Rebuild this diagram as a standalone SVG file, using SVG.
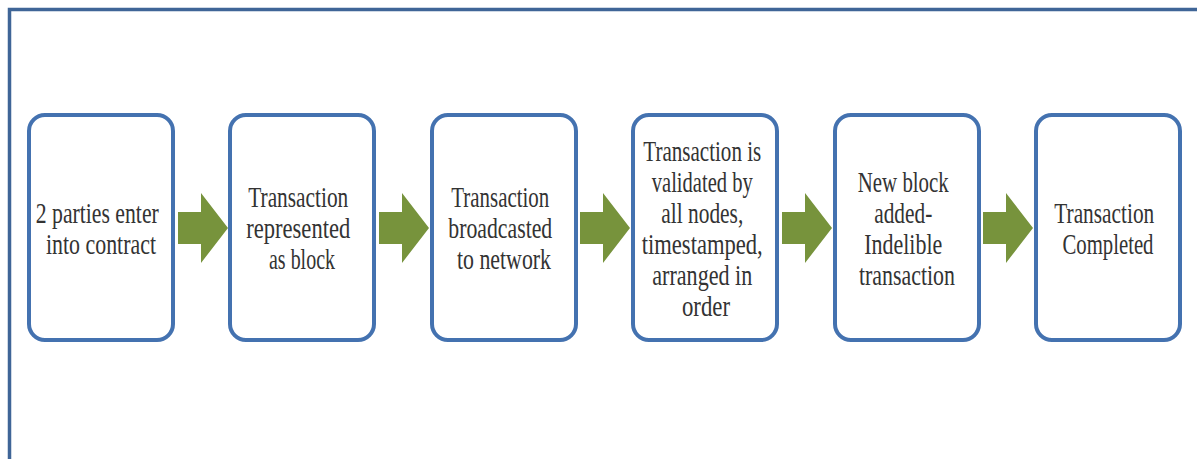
<svg xmlns="http://www.w3.org/2000/svg" width="1197" height="459" viewBox="0 0 1197 459">
  <defs>
    <style>
      .frame { fill: none; stroke: #3F6597; stroke-width: 3.5; }
      .box { fill: #FFFFFF; stroke: #4472B0; stroke-width: 4; }
      .arrow { fill: #77933C; }
      .label { font-family: "Liberation Serif", "DejaVu Serif", serif; font-size: 30px; fill: #333333; text-anchor: middle; }
    </style>
    <!-- block arrow pointing right, origin at shaft start, centred on y=0 -->
    <polygon id="blockArrow" class="arrow" points="0,-16 23,-16 23,-35 50,0 23,35 23,16 0,16"/>
  </defs>

  <rect width="1197" height="459" fill="#FFFFFF"/>

  <!-- outer frame: top and left edges -->
  <path class="frame" d="M9.5,459 V9.5 H1197"/>

  <!-- process steps -->
  <g id="step1">
    <rect class="box" x="29" y="115" width="144" height="225" rx="16"/>
    <text class="label" lengthAdjust="spacingAndGlyphs">
      <tspan x="101" y="223" textLength="123" lengthAdjust="spacingAndGlyphs">2 parties enter</tspan>
      <tspan x="101" y="254" textLength="110" lengthAdjust="spacingAndGlyphs">into contract</tspan>
    </text>
  </g>

  <g id="step2">
    <rect class="box" x="230" y="115" width="144" height="225" rx="16"/>
    <text class="label">
      <tspan x="302" y="207" textLength="100" lengthAdjust="spacingAndGlyphs">Transaction</tspan>
      <tspan x="302" y="238" textLength="104" lengthAdjust="spacingAndGlyphs">represented</tspan>
      <tspan x="302" y="269" textLength="66" lengthAdjust="spacingAndGlyphs">as block</tspan>
    </text>
  </g>

  <g id="step3">
    <rect class="box" x="432" y="115" width="144" height="225" rx="16"/>
    <text class="label">
      <tspan x="504" y="207" textLength="98" lengthAdjust="spacingAndGlyphs">Transaction</tspan>
      <tspan x="504" y="238" textLength="104" lengthAdjust="spacingAndGlyphs">broadcasted</tspan>
      <tspan x="504" y="269" textLength="94" lengthAdjust="spacingAndGlyphs">to network</tspan>
    </text>
  </g>

  <g id="step4">
    <rect class="box" x="633" y="115" width="144" height="225" rx="16"/>
    <text class="label">
      <tspan x="706" y="161" textLength="118" lengthAdjust="spacingAndGlyphs">Transaction is</tspan>
      <tspan x="706" y="192" textLength="101" lengthAdjust="spacingAndGlyphs">validated by</tspan>
      <tspan x="706" y="223" textLength="82" lengthAdjust="spacingAndGlyphs">all nodes,</tspan>
      <tspan x="706" y="254" textLength="121" lengthAdjust="spacingAndGlyphs">timestamped,</tspan>
      <tspan x="706" y="285" textLength="100" lengthAdjust="spacingAndGlyphs">arranged in</tspan>
      <tspan x="706" y="316" textLength="48" lengthAdjust="spacingAndGlyphs">order</tspan>
    </text>
  </g>

  <g id="step5">
    <rect class="box" x="835" y="115" width="144" height="225" rx="16"/>
    <text class="label">
      <tspan x="907" y="192" textLength="91" lengthAdjust="spacingAndGlyphs">New block</tspan>
      <tspan x="907" y="223" textLength="58" lengthAdjust="spacingAndGlyphs">added-</tspan>
      <tspan x="907" y="254" textLength="78" lengthAdjust="spacingAndGlyphs">Indelible</tspan>
      <tspan x="907" y="285" textLength="96" lengthAdjust="spacingAndGlyphs">transaction</tspan>
    </text>
  </g>

  <g id="step6">
    <rect class="box" x="1036" y="115" width="144" height="225" rx="16"/>
    <text class="label">
      <tspan x="1108" y="223" textLength="100" lengthAdjust="spacingAndGlyphs">Transaction</tspan>
      <tspan x="1108" y="254" textLength="91" lengthAdjust="spacingAndGlyphs">Completed</tspan>
    </text>
  </g>

  <!-- connectors between steps -->
  <g id="connectors">
    <use href="#blockArrow" x="178" y="228"/>
    <use href="#blockArrow" x="379" y="228"/>
    <use href="#blockArrow" x="580" y="228"/>
    <use href="#blockArrow" x="782" y="228"/>
    <use href="#blockArrow" x="983" y="228"/>
  </g>
</svg>
